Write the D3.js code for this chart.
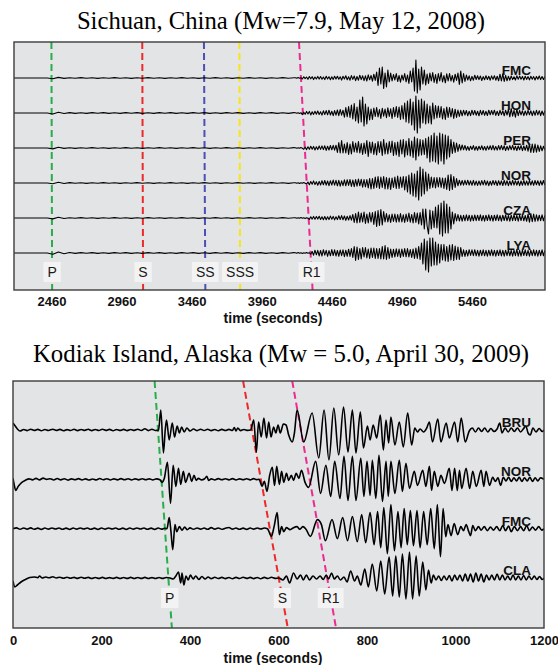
<!DOCTYPE html>
<html>
<head>
<meta charset="utf-8">
<script src="https://cdn.jsdelivr.net/npm/d3@7/dist/d3.min.js"></script>
<style>
  body { margin: 0; background: #ffffff; }
  svg { display: block; }
</style>
</head>
<body>
<div id="chart"></div>
<script>
// ---------------- Sichuan, China (Mw=7.9) ----------------
const sichuanTitle = "Sichuan, China (Mw=7.9, May 12, 2008)";
const sichuanStations = ["FMC", "HON", "PER", "NOR", "CZA", "LYA"];
const sichuanTicks = [2460, 2960, 3460, 3960, 4460, 4960, 5460];
const sichuanPhaseNames = ["P", "S", "SS", "SSS", "R1"];
const sichuanPhaseTop = [2460, 3108, 3548, 3801, 4226];     // arrival time at top of frame
const sichuanPhaseBottom = [2465, 3114, 3558, 3806, 4323];  // arrival time at bottom of frame

// quiet part of each record: one sample every 40 s from 2190 s
const sicPreStart = 2190, sicPreStep = 40;
// active part of each record: one sample every 10 s from 4200 s
const sicWaveStart = 4200, sicWaveStep = 10;

const sicFMCpre = [0,0,0,0,0,0,0,-.8,.6,-.4,
  .3,-.3,.4,-.3,.3,-.4,.3,-.3,.4,-.3,
  .3,-.4,.3,-.3,.4,-.3,.3,-.4,.3,-.3,
  .4,-.3,.3,-.4,.3,-.3,.4,-.3,.3,-.4,
  .3,-.3,.4,-.3,.3,-.4,.3,-.3,.4,-.3,
  .3];
const sicHONpre = [0,0,0,0,0,0,0,-1,.8,-.5,
  .4,-.4,.3,-.4,.4,-.3,.4,-.4,.3,-.4,
  .4,-.3,.4,-.4,.3,-.4,.4,-.3,.4,-.4,
  .3,-.4,.4,-.3,.4,-.4,.3,-.4,.4,-.3,
  .4,-.4,.3,-.4,.4,-.3,.4,-.4,.3,-.4,
  .4];
const sicPERpre = [0,0,0,0,0,0,0,-.9,.7,-.4,
  .3,-.4,.3,-.3,.4,-.3,.3,-.4,.3,-.3,
  .4,-.3,.3,-.4,.3,-.3,.4,-.3,.3,-.4,
  .3,-.3,.4,-.3,.3,-.4,.3,-.3,.4,-.3,
  .3,-.4,.3,-.3,.4,-.3,.3,-.4,.3,-.3,
  .4];
const sicNORpre = [0,0,0,0,0,0,0,-.8,.7,-.5,
  .4,-.3,.3,-.4,.3,-.3,.4,-.3,.3,-.4,
  .3,-.3,.4,-.3,.3,-.4,.3,-.3,.4,-.3,
  .3,-.4,.3,-.3,.4,-.3,.3,-.4,.3,-.3,
  .4,-.3,.3,-.4,.3,-.3,.4,-.3,.3,-.4,
  .3];
const sicCZApre = [0,0,0,0,0,0,0,-.9,.8,-.5,
  .3,-.3,.4,-.3,.3,-.4,.3,-.3,.4,-.3,
  .3,-.4,.3,-.3,.4,-.3,.3,-.4,.3,-.3,
  .4,-.3,.3,-.4,.3,-.3,.4,-.3,.3,-.4,
  .3,-.3,.4,-.3,.3,-.4,.3,-.3,.4,-.3,
  .3];
const sicLYApre = [0,0,0,0,0,0,0,-1.2,1,-.8,
  .5,-.4,.4,-.3,.4,-.4,.3,-.4,.4,-.3,
  .4,-.4,.3,-.4,.4,-.3,.4,-.4,.3,-.4,
  .4,-.3,.4,-.4,.3,-.4,.4,-.3,.4,-.4,
  .3,-.4,.4,-.3,.4,-.4,.3,-.4,.4,-.3,
  .4];

const sicFMC = [.3,-.3,.4,-.3,.3,-1,1.2,-.6,1,-1.3,
  1.5,-.8,1.3,-1.6,.9,-1,1.6,-1.1,1.4,-1.2,
  1,-1.6,1.7,-1,1.3,-1.7,1.2,-1.4,1.8,-1.1,
  1.8,-1.3,1.2,-2.1,1.7,-1,2.2,-1.8,1.2,-2.2,
  2.4,-1.4,2,-2.7,1.5,-2.2,2.8,-1.6,2.2,-2.6,
  2.1,-3,3.2,-1.8,2.6,-3.1,3.8,-2.5,6,-7.5,
  10,-6,11,-10.5,5,-9,8,-4,5,-3,
  3.5,-2,4.5,-3.5,2.5,-4.2,3,-2.2,4.5,-4,
  3,-5.5,7,-4,10,-13,18,-15,9,-12,
  11,-6,8,-7,4,-5.5,5,-3,5.5,-4.5,
  3.5,-5.5,4.5,-3,5.5,-4,2.5,-4.8,4.2,-3,
  4.5,-3,2.5,-4.2,3.8,-2.5,5,-6.5,7,-5,
  4.5,-3.5,3,-2,2.2,-2.8,1.6,-2.2,2.8,-1.5,
  2.2,-1.6,2,-2.5,1.4,-1.8,2.3,-1.5,1.7,-2.2,
  2.1,-1.4,2.3,-2.2,1.8,-2.8,3.8,-3,4.2,-3.4,
  2.6,-2.8,1.8,-2.2,2,-1.6,1.3,-2,2.2,-1.3,
  1.9,-1.2,1.6,-2,1.8,-1.4,1.4,-1.9,1.8,-1.2,
  1.4,-2,1.5,-1.3,2,-1.6,1.4,-1.5,1.5];
const sicHON = [.3,-.3,.3,-.4,.3,-1.6,.8,-1.3,1.6,-1,
  1.6,-1.9,1.2,-1.4,1.8,-1.2,2,-1.5,1.3,-2.1,
  2.2,-1.5,2.4,-1.8,2.8,-2,1.8,-2.7,2.4,-2.2,
  3,-2.6,3.5,-2.2,2.8,-4.2,5.5,-3.8,6.5,-4.5,
  8,-6,9.5,-8,6,-10,13,-9,16,-13,
  9,-11,6,-7,4,-6.5,5,-3.5,5.5,-4,
  3.5,-5.5,4.8,-3.2,4,-4.6,5.2,-3.4,4.2,-5.5,
  5.5,-3.8,6.5,-4.5,6,-6.5,7.5,-6,10,-9,
  12,-10,14,-12,11,-17,17,-20,13,-15,
  14,-10,12,-11,9,-10,7,-11,10,-6,
  7.5,-5,7,-4.5,6.5,-6,4.5,-6.5,6,-4.5,
  5.5,-4,4.5,-5.5,3.8,-4.5,3,-3.5,2.6,-2.8,
  2.8,-2,2.5,-2.8,1.8,-2.6,2.8,-1.8,2.5,-2.2,
  1.8,-2.8,2.6,-1.8,2.5,-2.3,1.7,-2.5,2.8,-1.8,
  2.5,-1.7,2.8,-2.4,1.8,-2.5,2.6,-1.7,2.3,-2.8,
  2.8,-2,3.5,-3.8,4.5,-3.2,2.6,-4.2,3.8,-2.6,
  2.6,-1.9,2.2,-2.7,2,-2.2,2.7,-1.8,2.2,-2.6,
  2,-2.3,2.6,-1.9,2.3,-2.6,2,-2.2,2.3];
const sicPER = [.3,-.3,.3,-.3,.4,-.3,-1.3,.8,-1.6,1.2,
  -1.3,1.8,-1.2,1.6,-2,1.3,-1.6,2,-1.4,2.1,
  -1.6,2.2,-2.4,1.7,-2,2.5,-1.8,2.7,-2.1,2.8,
  -4.5,5.5,-5,7.5,-5,4,-5,5.5,-6.5,4,
  -6,6.5,-4,5,-4.5,6.5,-5,4.5,-6.5,5,
  -5.5,7.5,-8.5,6,-5,6,-6.5,4.5,-7,6.5,
  -4.5,6.5,-7.5,8.5,-6,5,-6,6.5,-4.5,7,
  -7.5,5.5,-7,6,-8.5,8,-6,8.5,-9,7,
  -7,9.5,-8,7,-9.5,11,-12,9.5,-8,8.5,
  -7,8,-6.5,9.5,-10,11,-14,12.5,-13,15,
  -14,12,-16,15,-13,14,-16,13,-11,12,
  -9,8.5,-5.5,6,-4.5,5,-3.5,3.5,-2.2,3,
  -1.8,2.5,-2.2,1.5,-2.4,1.8,-1.5,2.4,-2.2,1.5,
  -2.2,1.8,-1.5,2.3,-2,1.5,-2.3,1.9,-1.6,2.2,
  -1.8,2.6,-2,1.6,-2.1,2.4,-1.7,2.5,-1.8,2.2,
  -2.5,1.7,-2,2.4,-1.6,2.6,-2,1.7,-2.5,2,
  -1.7,2.4,-2.6,2,-2.3,2.8,-3.2,3.8,-4.5,4,
  -4.4,4,-4.2,3,-3.4,2.2,-2.8,1.8,-2];
const sicNOR = [.3,-.3,.3,-.4,.3,-.3,.4,-.3,-1.1,1,
  -1.7,1.5,-1.3,2.1,-1.6,1.3,-2.2,1.6,-2,2.3,
  -1.8,2.5,-2.2,2,-2.7,2.3,-2,2.9,-2.2,2.6,
  -2.8,2.6,-3.2,2.2,-2.6,3.2,-2.8,3.3,-2.4,3.5,
  -3.4,3,-3.6,3.4,-3.2,4,-2.8,3.6,-4.2,3.5,
  -4,3.5,-5,4.5,-6,4.5,-5.5,6,-4.5,6.5,
  -5.5,6,-4.5,6.5,-6,5.5,-6,5,-6.5,5,
  -4.5,6,-5.5,7,-5.5,6,-4.5,6.5,-7,6.5,
  -9,8,-11,10,-13,9,-14,12,-17,16,
  -13,14,-11,11,-8,9,-5.5,6,-4.5,5.5,
  -5,5.5,-4,5.5,-4.5,5,-5.5,5,-6.5,8,
  -7.5,8.5,-6.5,6.5,-4.5,4.5,-2.8,2.8,-2.2,2.5,
  -2.2,2.6,-1.8,2.8,-2,2.2,-2.3,2.6,-2.2,1.9,
  -2.4,2,-2.2,2.4,-1.9,2.7,-2.2,2,-2.6,1.8,
  -2.2,2.5,-1.8,2.2,-2.5,2.3,-2,2.2,-2.5,2.7,
  -2,2.3,-2.6,2,-2.2,2.7,-2,2.3,-2.2,2,
  -2.7,2,-2.3,2.5,-2.2,2,-2.3,2.6,-2,2.2,
  -2.3,2.5,-1.8,2.2,-2.4,2.2,-2,2.5,-2];
const sicCZA = [.3,-.3,.3,-.3,.4,-.3,.3,-.4,.3,-.3,
  -1.4,1.2,-1.1,1.6,-1.2,1.5,-1.1,1.8,-1.5,1.2,
  -1.7,1.5,-1.8,1.2,-1.6,1.9,-1.3,1.6,-1.9,1.3,
  -1.6,2.2,-1.5,2.4,-1.8,2,-2.4,1.7,-2,2.4,
  -2.2,3.5,-4.5,4.5,-5,6,-4.5,5,-4,6,
  -5.5,4,-5,5.5,-4,5.5,-6.5,6.5,-8.5,7.5,
  -7.5,8.5,-7,6.5,-4,4.5,-4,3.2,-4.5,4,
  -3.5,4,-4.2,3.5,-4,4.5,-4,3.2,-4.5,4,
  -3.5,5,-4.2,3.5,-5,5.5,-4.5,5,-6,5.5,
  -7,9,-11,9,-8,-16,8,-11,7,-9.5,
  11,-10,13,-16,15,-18,17,-15,14,-15,
  11,-11,6,-6,4.5,-3,3.5,-3,2.6,-3.2,
  2.7,-2.8,3.2,-2.6,2.8,-3.1,2.6,-2.8,3,-2.6,
  2.8,-2.5,3.2,-2.8,2.5,-3.2,2.8,-2.5,3.2,-2.7,
  2.5,-3.2,2.8,-2.5,3.2,-2.7,2.5,-3.2,2.8,-2.5,
  3.2,-2.8,2.5,-3.2,2.8,-2.6,3.2,-2.5,2.6,-3.2,
  2.8,-2.5,3.2,-2.8,2.5,-3.3,3.8,-4.2,4.5,-3.6,
  4,-3.5,3.2,-3,2.8,-2.6,3.2,-2.8,2.5];
const sicLYA = [.3,-.3,.4,-.3,.3,-.4,.3,-.3,.4,-.3,
  .3,-1.2,1.5,-2.2,2.8,-1.8,2.6,-2.9,2.5,-3,
  3.3,-2.2,2.6,-3.3,2.4,-2.8,3.4,-2.5,3.2,-3,
  2.5,-3.3,3,-2.6,3.2,-3.7,2.8,-3.3,3.8,-3.4,
  4.5,-4.5,6.5,-7.5,6,-6.5,4.5,-6,5.5,-4,
  5.5,-5,4,-5.5,5,-4.5,5,-5.5,4.5,-5.5,
  4.5,-6,6.5,-6,7.5,-6.5,5.5,-5.5,4,-4.5,
  3.6,-4,4.2,-3.5,4,-4.5,4,-3.5,4.5,-3.8,
  4.5,-4,3.5,-4.5,4,-5.5,5,-5.5,6.5,-6.5,
  10,-11,14,-17,12,-19,15,-13,15,-12,
  11,-12,9,-10,8.5,-7,8.5,-8,6.5,-8.5,
  8,-7,8.5,-7.5,7,-6.5,6,-6.5,5.5,-3.5,
  3.2,-3.4,2.6,-3,3.3,-2.4,3.2,-2.6,3.3,-2.8,
  2.6,-3.2,2.8,-2.6,3.2,-2.8,2.6,-3.2,2.8,-2.6,
  3.2,-2.8,2.6,-3.2,2.8,-2.5,3.2,-2.9,2.6,-3.2,
  2.8,-2.6,3,-2.8,2.6,-3.2,2.8,-2.6,3.6,-3.2,
  2.6,-3.2,2.8,-2.5,3.2,-2.8,2.6,-3.2,2.8,-2.6,
  3.2,-2.8,2.6,-3.2,2.8,-2.6,3.2,-2.8,2.6];

// ---------------- Kodiak Island, Alaska (Mw = 5.0) ----------------
const kodiakTitle = "Kodiak Island, Alaska (Mw = 5.0, April 30, 2009)";
const kodiakStations = ["BRU", "NOR", "FMC", "CLA"];
const kodiakTicks = [0, 200, 400, 600, 800, 1000, 1200];
const kodiakPhaseNames = ["P", "S", "R1"];
const kodiakPhaseTop = [320, 520, 631];
const kodiakPhaseBottom = [359, 621, 730];

// [time (s), amplitude]
const kodBRU = [[0,7],[5,4],[10,1],[16,-1],[24,0.5],[32,-0.6],[40,0.8],[48,-0.4],[56,0.6],[64,-0.7],[72,0.5],[80,-0.5],[90,0.8],[98,-0.4],[106,0.6],[114,-0.7],[122,0.4],[130,-0.5],[138,0.7],[146,-0.6],[154,0.5],[162,-0.4],[170,0.7],[178,-0.6],[186,0.5],[194,-0.5],[202,0.7],[210,-0.4],[218,0.6],[226,-0.7],[234,0.5],[242,-0.4],[250,0.6],[258,-0.6],[266,0.5],[274,-0.4],[282,0.7],[290,-0.5],[298,1.2],[306,-0.6],[314,0.8],[322,-0.5],[329,0],
  [334,20],[340,-23],[344,0],[347,10],[353,-10],[360,7],[365,-7],[371,4],[376,-3],[381,3],[387,-2],[393,2],[400,-1],
  [408,1],[416,-0.6],[424,0.8],[432,-0.5],[440,0.7],[448,-0.6],[456,0.5],[464,-0.7],[472,0.6],[480,-0.5],[488,0.6],[496,-0.4],[500,2.5],[504,-1],[508,2],[514,-0.6],[522,0.5],[530,-0.4],[537,0],
  [544,10],[550,-22],[555,8],[561,-7],[567,12],[573,-8],[578,8],[583,-7],[589,3],[594,-3],[599,5],[604,-3],[611,6],[617,5],[623,-5],[631,-12],[636,-3],
  [642,20],[657,-12],[676,17],[691,-28],[703,20],[714,-30],[725,22],[736,-25],[747,23],[757,-22],[767,20],[775,-23],[785,18],[792,-18],[801,4],[807,-10],[814,5],[822,-8],[830,15],[837,-20],[843,10],[849,-13],[854,13],[863,-15],[873,8],[882,-17],[892,17],[901,-15],[908,2],[914,-2],[920,1],[928,-2],[935,2],[941,8],[948,-12],[960,11],[967,-12],[979,7],[986,-8],[998,8],[1005,-12],[1013,12],[1022,-12],[1031,-1],
  [1038,2],[1045,-2],[1052,2],[1059,-1.5],[1066,2],[1073,-2],[1080,1.5],[1087,-1.5],[1094,1],[1100,7],[1105,-3],[1112,2],[1119,-2],[1126,2],[1133,-1.5],[1140,2],[1147,-2],[1154,1.5],[1159,4],[1164,-3],[1169,-5],[1175,2],[1182,-2],[1189,1.5],[1196,-1.5],[1200,0]];
const kodNOR = [[0,1],[3,-6],[6,-11],[12,-7],[20,-3],[28,-1],[36,0.5],[44,-0.5],[52,1],[60,-0.5],[68,1.2],[76,0],[84,0.6],[92,-0.6],[100,0.8],[108,-0.5],[116,0.6],[124,-0.8],[132,0.5],[140,-0.4],[148,0.7],[156,-0.6],[164,0.5],[172,-0.7],[180,0.4],[188,-0.5],[196,0.8],[204,-0.4],[212,0.6],[220,-0.6],[228,0.5],[236,-0.5],[244,0.7],[252,-0.4],[260,0.6],[268,-0.6],[276,0.5],[284,-0.5],[292,0.6],[300,-0.4],[308,0.5],[316,-0.6],[324,0.5],[332,-0.4],[337,-3],[342,1],
  [349,17],[356,-24],[362,14],[368,-7],[374,11],[379,-5],[385,8],[390,-3],[398,6],[404,-2],[409,4],[414,-1],[419,1],[426,-0.5],[433,0.6],[438,3],[442,-1],[448,0.5],[456,-0.6],[464,0.7],[472,-0.4],[480,0.6],[488,-0.5],[496,0.7],[504,-0.6],[512,0.5],[520,-0.4],[528,0.6],[536,-0.5],[544,0.7],[550,-0.3],[556,0],
  [563,-7],[568,-2],[574,-12],[580,4],[586,12],[591,-6],[596,13],[602,-5],[607,8],[612,-3],[618,6],[623,-1],[629,4],[634,-1],[640,6],[646,1],[652,9],[660,-3],[668,-8],
  [684,18],[695,-14],[707,14],[718,-17],[727,18],[739,-19],[748,23],[757,-21],[767,23],[775,-21],[786,21],[793,-17],[800,18],[807,-16],[812,19],[820,-19],[827,24],[835,-22],[843,18],[848,-17],[854,18],[863,-14],[873,19],[880,-12],[888,16],[896,-9],[907,8],[914,-6],[926,9],[933,-7],[941,13],[946,-11],[952,8],[960,-7],[967,4],[975,-4],[986,11],[992,-11],[998,11],[1004,-11],[1009,9],[1014,-9],[1024,11],[1032,-9],[1039,8],[1047,-7],[1058,9],[1064,-7],[1069,8],[1077,-6],
  [1084,2],[1090,-2],[1096,1.5],[1102,-6],[1108,2],[1114,-1.5],[1120,2],[1126,-2],[1132,1.5],[1138,-1.5],[1144,2],[1150,-2],[1156,1.5],[1162,-1.5],[1168,2],[1174,-2],[1180,1.5],[1186,-1.5],[1192,1.5],[1200,0]];
const kodFMC = [[0,0],[8,0.8],[16,-0.6],[24,0.7],[32,-0.5],[40,0.8],[48,-0.6],[56,0.5],[64,-0.7],[72,0.6],[80,-0.5],[88,0.7],[96,-0.4],[104,0.6],[112,-0.6],[120,0.5],[128,-0.7],[136,0.6],[144,-0.5],[152,0.7],[160,-0.4],[168,0.6],[176,-0.6],[184,0.5],[192,-0.7],[200,0.6],[208,-0.5],[216,0.7],[224,-0.4],[232,0.6],[240,-0.6],[248,0.5],[256,-0.7],[264,0.6],[272,-0.5],[280,0.7],[288,-0.4],[296,0.6],[304,-0.6],[312,0.5],[320,-0.7],[328,0.6],[336,-0.5],[343,0.4],[348,0],
  [353,11],[357,-3],[361,-21],[366,4],[370,-3],[376,2],[382,-1.5],[388,1.5],[394,-1],[400,0.8],
  [408,-0.6],[416,0.7],[424,-0.5],[432,0.6],[440,-0.6],[448,1],[456,-0.5],[464,0.7],[472,-0.6],[480,0.5],[488,1.2],[496,-0.5],[504,0.6],[512,-0.6],[520,0.5],[528,-0.7],[536,0.6],[544,-0.5],[552,0.7],[560,-0.4],[568,0.6],[575,0],
  [584,-7.7],[590,2],[597,16],[602,-6],[607,2],[612,-3],[618,1],[626,-1],[632,0.5],[642,2],[648,-0.5],[655,2],[662,-0.5],[672,-7.7],
  [688,9],[697,4],[706,-12],[721,9],[733,-10],[745,11],[756,-12],[767,12],[778,-13],[788,14],[797,-14],[807,16],[816,-16],[824,17],[831,-19],[838,21],[846,-25],[854,24],[862,-22],[870,17],[877,-19],[884,20],[891,-16],[898,18],[905,-17],[913,18],[920,-19],[928,17],[936,-16],[944,20],[952,-20],[959,24],[966,-28],[972,20],[978,-8],
  [983,4],[990,-7],[997,5],[1005,-6],[1012,2],[1018,-2],[1024,4],[1030,-3],[1034,-7],[1039,3],[1045,-2],[1052,2],[1058,-1.5],[1065,2],[1072,-2],[1079,1.5],[1086,-1.5],[1093,2],[1100,-2],[1107,3],[1113,-2],[1120,2.5],[1126,-3],[1133,2],[1140,-2],[1147,2],[1154,-2],[1161,3],[1167,-2],[1174,1.5],[1181,-1.5],[1188,2],[1195,-1.5],[1200,0]];
const kodCLA = [[0,-3],[4,-9],[10,-7],[18,-4],[28,-1.5],[38,0.5],[48,1],[56,0.3],[60,2],[66,0],[74,1],[82,0.2],[90,1.2],[98,0],[106,0.8],[114,-0.3],[122,0.8],[130,-0.3],[138,0.6],[146,-0.4],[154,0.7],[162,-0.3],[170,0.6],[178,-0.5],[186,0.5],[194,-0.4],[202,0.6],[210,-0.5],[218,0.4],[226,-0.4],[234,0.6],[242,-0.5],[250,0.5],[258,-0.4],[266,0.6],[274,-0.5],[282,0.5],[290,-0.4],[298,0.6],[306,-0.5],[314,0.4],[322,-0.5],[330,0.5],[338,-0.4],[346,0.5],[355,0],
  [362,-1],[368,2],[374,6],[379,-5],[382,5],[386,-7],[391,2],[396,-2],[401,3],[407,-1],[413,2],[420,-1.5],[427,1.5],[434,-1],[441,1],[448,-0.6],[456,0.7],[464,-0.5],[472,0.6],[480,-0.6],[488,0.5],[496,-0.7],[504,0.6],[512,-0.5],[520,0.7],[528,-0.4],[536,0.6],[544,-0.6],[552,0.5],[560,-0.7],[568,0.6],[576,-0.5],[584,0.7],[592,-0.4],[601,0],
  [610,-2],[618,2],[625,-5],[634,5],[642,-1],[650,3],[656,-2],[663,3],[670,-2],[678,2],[686,-1],[694,2],[701,-1.5],[708,3],[713,-1],[720,5],[726,-1],[733,2],[740,-2],[748,1],[755,-4],[763,7],[772,-3],[778,2],
  [786,-7],[795,9],[803,-9],[812,14],[822,-13],[831,17],[840,-16],[850,21],[858,-18],[865,22],[873,-19],[880,24],[888,-21],[896,26],[903,-21],[911,22],[918,-18],[926,16],[933,-12],[939,8],[945,-5],
  [950,3],[956,-2],[962,2],[968,-2.5],[974,2],[980,-2],[986,2.5],[992,-3],[998,3],[1004,-2],[1010,3],[1016,-3],[1022,4],[1028,-3],[1034,4],[1040,-4],[1046,5],[1052,-3],[1058,4],[1064,-4],[1070,3],[1076,-2],[1082,3],[1088,-2],[1094,4],[1100,-2],[1106,3],[1112,-2],[1118,2],[1124,-2],[1130,3],[1136,-2],[1142,2],[1148,-2],[1154,2.5],[1160,-2],[1166,2],[1172,-1.5],[1178,2],[1184,-1.5],[1190,1.5],[1196,-1.5],[1200,0]];

// ---------------- drawing ----------------
const width = 558, height = 665;
const phaseColor = {P: "#27ae4a", S: "#ec2a2a", SS: "#4b4fb6", SSS: "#f7e51a", R1: "#ec2a92"};
const sansFont = "'Liberation Sans', Arial, Helvetica, sans-serif";

const svg = d3.select("#chart")
  .append("svg")
    .attr("width", width)
    .attr("height", height);

// turn a sampled record into [time, amplitude] pairs
function samples(values, start, step) {
  return values.map((v, i) => [start + i * step, v]);
}

function drawPanel(p) {
  const g = svg.append("g");

  const x = d3.scaleLinear().domain(p.domain).range([p.left, p.right]);
  const row = d3.scalePoint().domain(p.stations).range(p.rows);
  const amp = d3.scaleLinear().domain([-1, 1]).range([1, -1]);

  // title
  g.append("text")
    .attr("x", 281)
    .attr("y", p.titleY)
    .attr("text-anchor", "middle")
    .attr("font-family", "'Liberation Serif', 'Times New Roman', serif")
    .attr("font-size", p.titleSize)
    .attr("fill", "#000")
    .text(p.title);

  // frame
  g.append("rect")
    .attr("x", p.left).attr("y", p.top)
    .attr("width", p.right - p.left).attr("height", p.bottom - p.top)
    .attr("fill", "#e3e4e6");

  g.append("clipPath").attr("id", p.id + "-clip")
    .append("rect")
    .attr("x", p.left).attr("y", p.top)
    .attr("width", p.right - p.left).attr("height", p.bottom - p.top);

  const inner = g.append("g").attr("clip-path", `url(#${p.id}-clip)`);

  // phase arrival lines (dashed, slanted with distance)
  p.phases.forEach((name, i) => {
    inner.append("line")
      .attr("x1", x(p.phaseTop[i])).attr("y1", p.top)
      .attr("x2", x(p.phaseBottom[i])).attr("y2", p.bottom)
      .attr("stroke", phaseColor[name])
      .attr("stroke-width", 2)
      .attr("stroke-dasharray", "7,4");
  });

  // seismograms
  const line = d3.line()
    .x(d => x(d[0]))
    .curve(p.curve);

  p.traces.forEach((pts, i) => {
    const base = row(p.stations[i]);
    inner.append("path")
      .datum(pts)
      .attr("d", line.y(d => base + amp(d[1])))
      .attr("fill", "none")
      .attr("stroke", "#000")
      .attr("stroke-width", p.traceWidth)
      .attr("stroke-linejoin", "round");
  });

  // station names
  g.selectAll(null)
    .data(p.stations)
    .enter()
    .append("text")
      .attr("x", 531)
      .attr("y", d => row(d) - 3)
      .attr("text-anchor", "end")
      .attr("font-family", sansFont)
      .attr("font-weight", "bold")
      .attr("font-size", 13.5)
      .attr("fill", "#111")
      .text(d => d);

  // phase labels in pale boxes, sitting on the dashed lines
  const frac = (p.labelY - p.top) / (p.bottom - p.top);
  p.phases.forEach((name, i) => {
    const t = d3.interpolateNumber(p.phaseTop[i], p.phaseBottom[i])(frac);
    const lg = g.append("g").attr("transform", `translate(${x(t)},${p.labelY})`);
    const txt = lg.append("text")
      .attr("text-anchor", "middle")
      .attr("dy", "0.36em")
      .attr("font-family", sansFont)
      .attr("font-size", 14)
      .attr("fill", "#1a1a1a")
      .text(name);
    const w = txt.node().getComputedTextLength() + 8;
    lg.insert("rect", "text")
      .attr("x", -w / 2).attr("y", -10)
      .attr("width", w).attr("height", 20)
      .attr("fill", "#f3f3f3");
  });

  // border
  g.append("rect")
    .attr("x", p.left).attr("y", p.top)
    .attr("width", p.right - p.left).attr("height", p.bottom - p.top)
    .attr("fill", "none")
    .attr("stroke", "#3c3c3c")
    .attr("stroke-width", 1.4);

  // x axis (labels only)
  const axis = g.append("g")
    .attr("transform", `translate(0,${p.bottom})`)
    .call(d3.axisBottom(x).tickValues(p.ticks).tickSize(0).tickPadding(p.tickPad).tickFormat(d3.format("d")))
    .attr("font-family", sansFont)
    .attr("font-size", 13)
    .attr("font-weight", "bold");
  axis.select(".domain").remove();
  axis.selectAll("text").attr("fill", "#111");

  g.append("text")
    .attr("x", 273)
    .attr("y", p.axisTitleY)
    .attr("text-anchor", "middle")
    .attr("font-family", sansFont)
    .attr("font-weight", "bold")
    .attr("font-size", 14)
    .attr("fill", "#111")
    .text("time (seconds)");
}

drawPanel({
  id: "sichuan",
  title: sichuanTitle, titleY: 29, titleSize: 24.7,
  left: 14, right: 545, top: 42, bottom: 290,
  domain: [2193, 5981],
  rows: [78, 253],
  stations: sichuanStations,
  traces: [
    samples(sicFMCpre, sicPreStart, sicPreStep).concat(samples(sicFMC, sicWaveStart, sicWaveStep)),
    samples(sicHONpre, sicPreStart, sicPreStep).concat(samples(sicHON, sicWaveStart, sicWaveStep)),
    samples(sicPERpre, sicPreStart, sicPreStep).concat(samples(sicPER, sicWaveStart, sicWaveStep)),
    samples(sicNORpre, sicPreStart, sicPreStep).concat(samples(sicNOR, sicWaveStart, sicWaveStep)),
    samples(sicCZApre, sicPreStart, sicPreStep).concat(samples(sicCZA, sicWaveStart, sicWaveStep)),
    samples(sicLYApre, sicPreStart, sicPreStep).concat(samples(sicLYA, sicWaveStart, sicWaveStep))
  ],
  curve: d3.curveLinear, traceWidth: 1.1,
  phases: sichuanPhaseNames, phaseTop: sichuanPhaseTop, phaseBottom: sichuanPhaseBottom,
  labelY: 272,
  ticks: sichuanTicks, tickPad: 7, axisTitleY: 323
});

drawPanel({
  id: "kodiak",
  title: kodiakTitle, titleY: 362, titleSize: 24.8,
  left: 13, right: 544, top: 381, bottom: 628,
  domain: [0, 1200],
  rows: [430, 578],
  stations: kodiakStations,
  traces: [kodBRU, kodNOR, kodFMC, kodCLA],
  curve: d3.curveMonotoneX, traceWidth: 1.6,
  phases: kodiakPhaseNames, phaseTop: kodiakPhaseTop, phaseBottom: kodiakPhaseBottom,
  labelY: 598,
  ticks: kodiakTicks, tickPad: 8, axisTitleY: 663
});
</script>
</body>
</html>
